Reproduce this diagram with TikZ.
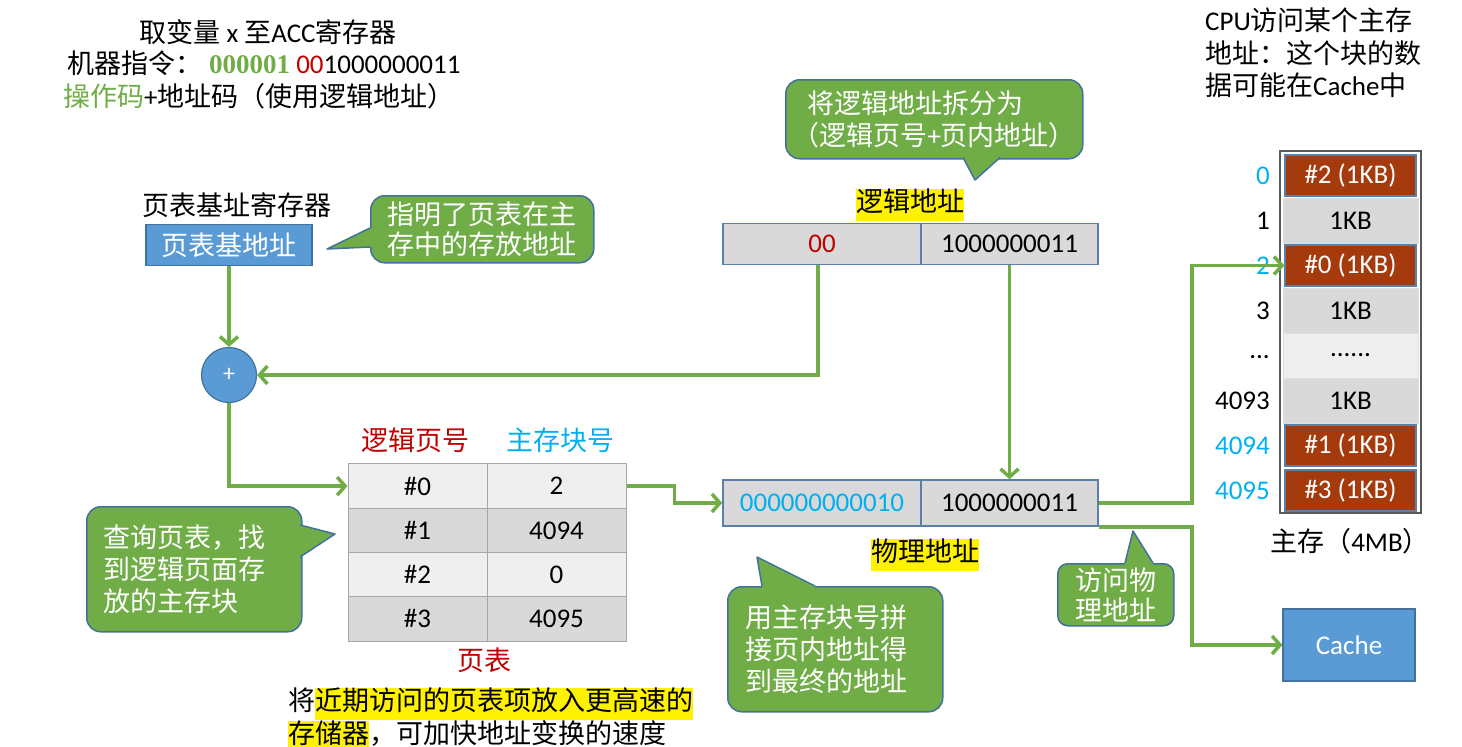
\documentclass[tikz,border=0pt]{standalone}
\usepackage{fontspec}
\setmainfont{Carlito}
\newfontfamily\latfont{Carlito}
\newfontfamily\cjkfont{Noto Sans CJK SC}
\newfontfamily\serifb{Liberation Serif}
\usetikzlibrary{arrows.meta,calc}
% automatic CJK font switching
\XeTeXinterchartokenstate=1
\newXeTeXintercharclass\cjkcls
\newcount\cjkcc
\cjkcc="3000
\loop\ifnum\cjkcc<"A000 \XeTeXcharclass\cjkcc=\cjkcls \advance\cjkcc by 1 \repeat
\cjkcc="FF00
\loop\ifnum\cjkcc<"FFF0 \XeTeXcharclass\cjkcc=\cjkcls \advance\cjkcc by 1 \repeat
\XeTeXinterchartoks 0 \cjkcls = {\cjkfont}
\XeTeXinterchartoks 4095 \cjkcls = {\cjkfont}
\XeTeXinterchartoks \cjkcls 0 = {\latfont}
\XeTeXinterchartoks \cjkcls 4095 = {\latfont}

\definecolor{cgreen}{HTML}{70AD47}
\definecolor{cblueb}{HTML}{41719C}
\definecolor{cblue}{HTML}{5B9BD5}
\definecolor{ccyan}{HTML}{00B0F0}
\definecolor{cred}{HTML}{C00000}
\definecolor{cbrown}{HTML}{A53A0C}
\definecolor{cgray}{HTML}{D9D9D9}
\definecolor{clight}{HTML}{EFEFEF}
\definecolor{cgrid}{HTML}{A6A6A6}
\definecolor{caddrb}{HTML}{5A7FA8}
\definecolor{cframe}{HTML}{595959}

\newcommand\hlt[1]{{\setlength{\fboxsep}{0pt}\colorbox{yellow}{\strut #1}}}
\newcommand\callptr[4]{%
  \fill[cgreen] (#1) -- (#2) -- (#3) -- ($(#3)+(#4)$) -- ($(#1)+(#4)$) -- cycle;
  \draw[cblueb,line width=1.5pt,line join=round] (#1) -- (#2) -- (#3);}

\tikzset{
  txt/.style={font=\fontsize{27}{32}\selectfont, inner sep=0pt},
  bubble/.style={txt, fill=cgreen, draw=cblueb, line width=1.5pt, rounded corners=14pt, text=white, align=left},
  conn/.style={draw=cgreen, line width=3.5pt, -{Straight Barb[length=8pt,width=18pt]}},
  cellA/.style={txt, draw=cgrid, line width=1pt, minimum width=139pt, minimum height=44.25pt},
  addr/.style={txt, fill=cgray, draw=caddrb, line width=1.5pt},
  gcell/.style={txt, fill=cgray, draw=white!75!gray, line width=1pt, minimum width=135pt, minimum height=45pt},
  bcell/.style={txt, fill=cbrown, draw=caddrb, line width=1.3pt, text=white, minimum width=131pt, minimum height=41pt},
  idx/.style={txt, anchor=east},
}

\begin{document}
\begin{tikzpicture}[x=1pt,y=-1pt]
\useasboundingbox (0,0) rectangle (1462,747);

% top-left instruction text
\node[txt] (title) at (268,32) {取变量 x 至ACC寄存器};
\node[txt, anchor=west] (instr) at (67,63) {机器指令：\hspace{7pt}{\serifb\bfseries\color{cgreen}000001} {\color{cred}00}1000000011};
\node[txt, anchor=west] (opcode) at (63,96) {{\color{cgreen}操作码}+地址码（使用逻辑地址）};

% page table base register
\node[txt] (ptrlab) at (237,205) {页表基址寄存器};
\node[txt, fill=cblue, draw=cblueb, line width=1.2pt, text=white, minimum width=166pt, minimum height=41pt] (ptr) at (229,245) {页表基地址};

\node[bubble, minimum width=223pt, minimum height=67pt, align=center, anchor=north west, font=\fontsize{27}{30}\selectfont] (b1) at (370,195) {指明了页表在主\\存中的存放地址};
\callptr{370,228}{327,249}{370,247}{3,0}

% adder
\node[circle, fill=cblue, draw=cblueb, line width=1.2pt, minimum size=55pt, inner sep=0pt, text=white, font=\fontsize{24}{26}\selectfont] (plus) at (229,375) {+};

% logical address
\node[txt, fill=yellow, inner sep=0pt] (lalab) at (910,205) {\hlt{逻辑地址}};
\node[addr, minimum width=198pt, minimum height=41pt, text=cred] (la0) at (822,244) {00};
\node[addr, minimum width=177pt, minimum height=41pt] (la1) at (1009.5,244) {1000000011};

\node[bubble, minimum width=297pt, minimum height=79pt, anchor=north west, inner xsep=5pt] (b2) at (785,79) {\hspace*{15pt}将逻辑地址拆分为\\（逻辑页号+页内地址）};
\callptr{963,157.5}{975,180}{1000,157.5}{0,-3}

% page table
\node[txt, text=cred] (hA) at (415,440) {逻辑页号};
\node[txt, text=ccyan] (hB) at (560,440) {主存块号};
\node[cellA, fill=clight] (t0a) at (417.5,486.1) {\#0};
\node[cellA, fill=clight] (t0b) at (556.5,486.1) {2};
\node[cellA, fill=cgray] (t1a) at (417.5,530.4) {\#1};
\node[cellA, fill=cgray] (t1b) at (556.5,530.4) {4094};
\node[cellA, fill=clight] (t2a) at (417.5,574.6) {\#2};
\node[cellA, fill=clight] (t2b) at (556.5,574.6) {0};
\node[cellA, fill=cgray] (t3a) at (417.5,618.9) {\#3};
\node[cellA, fill=cgray] (t3b) at (556.5,618.9) {4095};
\node[txt, text=cred] (ptlab) at (484,660) {页表};

\node[bubble, minimum width=215pt, minimum height=125pt, text width=181pt, anchor=north west] (b3) at (86,506) {查询页表，找\\到逻辑页面存\\放的主存块};
\callptr{300,525}{335,534}{300,557}{-3,0}

% physical address
\node[addr, minimum width=198pt, minimum height=46pt, text=ccyan] (pa0) at (822,503) {000000000010};
\node[addr, minimum width=177pt, minimum height=46pt] (pa1) at (1009.5,503) {1000000011};
\node[txt] (palab) at (925,555) {\hlt{物理地址}};

\node[bubble, minimum width=215pt, minimum height=125pt, text width=180pt, anchor=north west] (b4) at (727,586) {用主存块号拼\\接页内地址得\\到最终的地址};
\callptr{762,586}{757,557}{815,586}{0,3}

\node[bubble, minimum width=116pt, minimum height=62pt, align=center, anchor=north west, rounded corners=10pt, font=\fontsize{27}{30}\selectfont] (b5) at (1057,563) {访问物\\理地址};
\callptr{1125,563}{1133,531}{1153,563}{0,3}

% main memory
\draw[cframe, line width=1.3pt] (1280,151) rectangle (1421,513);
\node[bcell] (m0) at (1350.5,175.5) {\#2 (1KB)};
\node[gcell] (m1) at (1350.5,220.5) {1KB};
\node[bcell] (m2) at (1350.5,265.5) {\#0 (1KB)};
\node[gcell] (m3) at (1350.5,310.5) {1KB};
\node[gcell, fill=clight] (m4) at (1350.5,355.5) {......};
\node[gcell] (m5) at (1350.5,400.5) {1KB};
\node[bcell] (m6) at (1350.5,445.5) {\#1 (1KB)};
\node[bcell] (m7) at (1350.5,490.5) {\#3 (1KB)};
\node[idx, text=ccyan] (i0) at (1270,175.5) {0};
\node[idx] (i1) at (1270,220.5) {1};
\node[idx, text=ccyan] (i2) at (1270,265.5) {2};
\node[idx] (i3) at (1270,310.5) {3};
\node[idx] (i4) at (1270,357) {...};
\node[idx] (i5) at (1270,400.5) {4093};
\node[idx, text=ccyan] (i6) at (1270,445.5) {4094};
\node[idx, text=ccyan] (i7) at (1270,490.5) {4095};
\node[txt] (memlab) at (1350,541) {主存（4MB）};

\node[txt, fill=cblue, draw=cblueb, line width=1.2pt, text=white, minimum width=132pt, minimum height=72pt] (cache) at (1349,645) {Cache};

\node[txt, align=left, anchor=west, font=\fontsize{27}{32.5}\selectfont] (cpu) at (1205,53) {CPU访问某个主存\\地址：这个块的数\\据可能在Cache中};

\node[txt, align=left, anchor=north west, font=\fontsize{27}{30}\selectfont] (note) at (288,688) {将\hlt{近期访问的页表项放入更高速的}\\\hlt{存储器}，可加快地址变换的速度};

% connectors
\draw[conn] (ptr.south) -- (plus.north);
\draw[conn] ([xshift=-4pt]la0.south) |- (plus.east);
\draw[conn] (plus.south) |- (t0a.west);
\draw[conn] (t0b.east) -- ++(48,0) |- (pa0.west);
\draw[conn] (la1.south) -- (la1.south |- pa1.north);
\draw[conn] (pa1.east) -- ++(93,0) |- (m2.west);
\draw[conn] (pa1.south east) -- ++(93,0) |- (cache.west);
\end{tikzpicture}
\end{document}
